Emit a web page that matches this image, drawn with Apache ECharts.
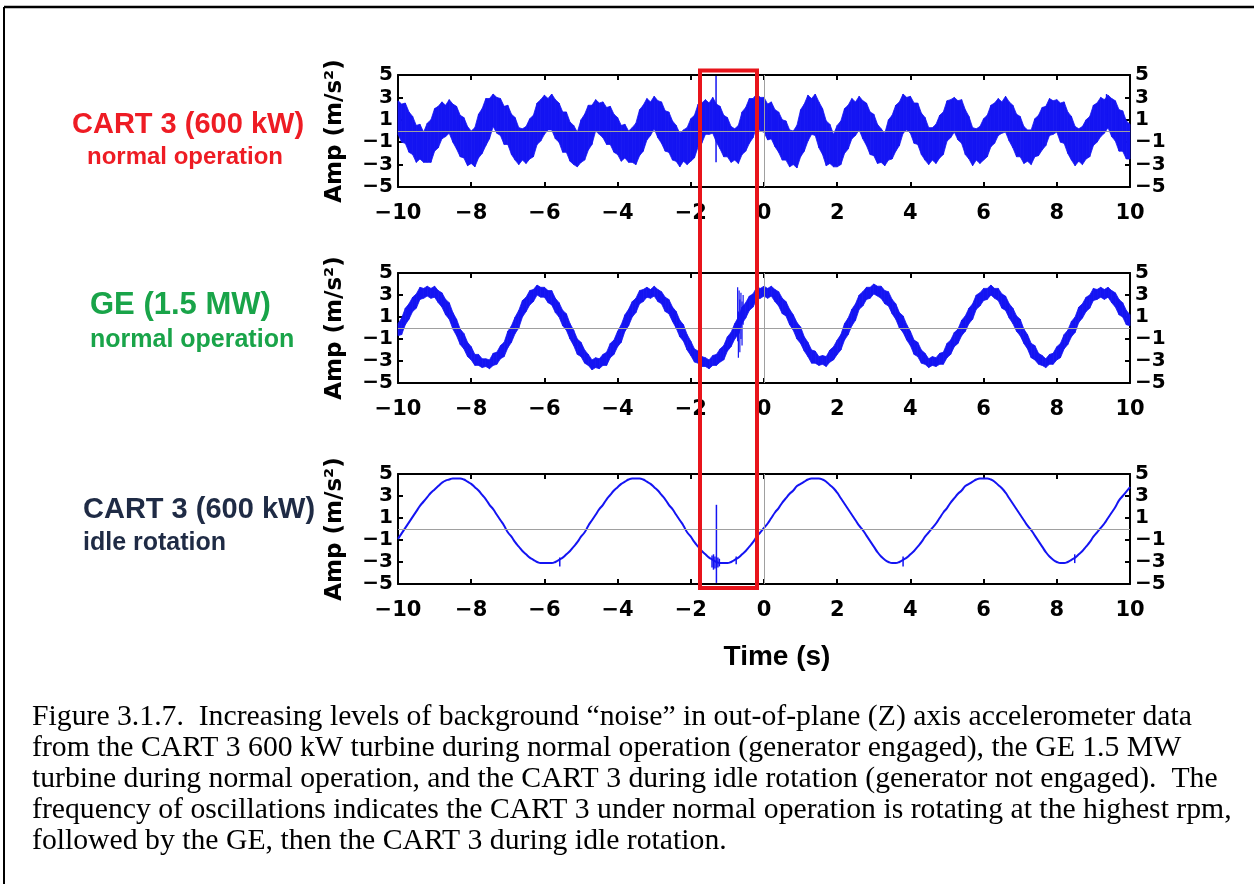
<!DOCTYPE html>
<html>
<head>
<meta charset="utf-8">
<script src="https://cdn.jsdelivr.net/npm/echarts@6.0.0/dist/echarts.min.js"></script>
<style>
  html, body { margin: 0; padding: 0; background: #fff; }
  #chart { width: 1254px; height: 884px; }
</style>
</head>
<body>
<div id="chart"></div>
<script>
// sampling grid shared by all three records (seconds)
const timeStart = -10;
const timeStep = 0.1;

// CART 3 normal operation: upper / lower edge of the noisy band (m/s^2)
const cartNormHi = [
  2.7, 2.4, 2.5, 1.7, 1.3, 0.5, 0.6, -0.1, 0.7, 1.0, 2.0, 2.2, 2.6, 2.3, 2.8, 2.4,
  2.2, 1.4, 1.2, 0.4, 0.0, 0.3, 1.5, 2.0, 2.9, 2.9, 3.3, 3.0, 2.9, 2.2, 2.3, 1.5,
  1.2, 0.3, 0.2, 0.4, 1.1, 1.4, 2.5, 2.8, 3.2, 2.9, 3.3, 2.8, 2.5, 1.7, 1.7, 0.8,
  0.5, -0.1, 1.0, 1.5, 2.3, 2.3, 2.8, 2.5, 2.6, 2.1, 2.2, 1.5, 1.2, 0.5, 0.6, 0.0,
  0.3, 0.7, 1.9, 2.3, 2.9, 2.6, 3.1, 2.7, 2.6, 1.8, 1.7, 0.9, 0.5, -0.2, 0.1, 0.3,
  1.1, 1.4, 2.4, 2.5, 2.8, 2.5, 3.0, 2.4, 2.2, 1.4, 1.2, 0.4, 0.2, 0.5, 1.7, 2.1,
  2.9, 2.9, 3.3, 3.0, 3.0, 2.4, 2.6, 1.9, 1.7, 1.0, 0.9, 0.1, 0.0, 0.5, 1.9, 2.4,
  3.2, 2.9, 3.3, 2.6, 2.0, 0.9, 0.6, -0.3, 0.5, 0.9, 2.0, 2.3, 2.9, 2.6, 3.1, 2.7,
  2.5, 1.7, 1.5, 0.6, 0.2, -0.2, 1.0, 1.4, 2.3, 2.6, 3.3, 3.0, 3.1, 2.5, 2.5, 1.6,
  1.2, 0.3, 0.3, 0.6, 1.4, 1.7, 2.7, 2.8, 3.0, 2.7, 2.8, 1.9, 1.3, 0.3, 0.2, 0.4,
  1.1, 1.4, 2.3, 2.5, 2.9, 2.6, 3.1, 2.6, 2.3, 1.5, 1.3, 0.4, 0.1, 0.1, 1.1, 1.4,
  2.1, 2.2, 2.9, 2.7, 2.8, 2.5, 2.6, 1.7, 1.3, 0.4, 0.2, 0.4, 1.0, 1.3, 2.3, 2.5,
  3.0, 2.8, 3.2, 2.9, 2.7, 1.9, 1.8, 0.9, 0.6
];
const cartNormLo = [
  -0.3, -1.0, -1.1, -1.9, -2.1, -2.8, -2.5, -2.8, -2.8, -2.8, -1.8, -1.5, -0.7, -0.5, -0.2, -1.0,
  -1.6, -2.3, -2.4, -3.1, -2.9, -3.2, -2.4, -2.0, -1.3, -0.7, 0.4, -0.2, -0.4, -1.2, -1.2, -2.1,
  -2.6, -3.0, -2.6, -2.9, -2.5, -2.3, -1.2, -0.9, -0.3, 0.1, 0.1, -0.7, -1.0, -1.9, -1.9, -2.7,
  -3.0, -3.2, -2.8, -2.6, -1.7, -1.2, 0.0, -0.3, -0.6, -1.2, -1.2, -1.9, -2.1, -2.7, -2.4, -2.8,
  -2.8, -3.0, -2.2, -1.8, -0.8, -0.4, 0.2, -0.6, -1.1, -1.8, -1.9, -2.6, -2.7, -3.2, -2.7, -3.0,
  -2.7, -2.4, -1.4, -1.1, -0.3, -0.3, -0.2, -1.0, -1.6, -2.3, -2.3, -2.8, -2.6, -2.9, -2.1, -1.8,
  -1.1, -0.6, 0.4, 0.0, -0.1, -0.8, -0.7, -1.4, -1.9, -2.6, -2.6, -3.2, -3.0, -3.3, -2.3, -1.8,
  -0.9, -0.3, -0.4, -1.5, -2.1, -3.1, -2.9, -3.2, -3.2, -3.0, -2.0, -1.6, -0.7, -0.4, 0.1, -0.7,
  -1.3, -2.1, -2.2, -2.9, -2.8, -3.1, -2.6, -2.5, -1.8, -1.3, -0.2, 0.1, -0.2, -1.1, -1.2, -2.1,
  -2.6, -3.0, -2.6, -2.9, -2.4, -2.1, -0.9, -0.6, -0.1, -0.8, -1.1, -2.1, -2.5, -3.1, -2.6, -2.9,
  -2.6, -2.3, -1.4, -1.1, -0.4, -0.2, -0.1, -0.9, -1.5, -2.3, -2.3, -2.9, -2.7, -3.0, -2.3, -2.2,
  -1.7, -1.3, -0.4, -0.3, -0.1, -1.0, -1.1, -2.0, -2.6, -3.1, -2.7, -3.0, -2.5, -2.3, -1.3, -1.0,
  -0.5, -0.2, 0.3, -0.5, -0.9, -1.8, -1.8, -2.5, -2.5
];
// isolated spikes: [time, low, high]
const cartNormSpikes = [[-1.31, -2.8, 4.9], [9.36, 1.5, 3.3]];

// GE 1.5 MW normal operation: upper / lower edge of the band
const geNormHi = [
  0.4, 0.9, 1.8, 2.2, 2.8, 3.1, 3.7, 3.6, 3.8, 3.6, 3.8, 3.4, 3.2, 2.6, 2.3, 1.4,
  0.8, -0.1, -0.5, -1.3, -1.7, -2.4, -2.4, -2.8, -2.8, -2.9, -2.3, -2.2, -1.6, -1.3, -0.3, 0.2,
  1.0, 1.6, 2.5, 2.8, 3.4, 3.5, 3.9, 3.7, 3.7, 3.4, 3.4, 2.7, 2.3, 1.6, 1.3, 0.4,
  -0.2, -1.0, -1.3, -2.0, -2.4, -2.9, -2.7, -2.8, -2.4, -2.2, -1.4, -1.1, -0.3, 0.3, 1.2, 1.7,
  2.4, 2.7, 3.4, 3.5, 3.7, 3.5, 3.8, 3.5, 3.3, 2.8, 2.6, 1.9, 1.5, 0.7, 0.3, -0.6,
  -1.2, -1.9, -2.1, -2.6, -2.7, -2.9, -2.5, -2.4, -1.9, -1.6, -0.8, -0.4, 0.4, 1.0, 1.9, 2.3,
  2.9, 3.1, 3.7, 3.6, 3.8, 3.6, 3.8, 3.5, 3.3, 2.7, 2.4, 1.7, 1.2, 0.5, 0.1, -0.8,
  -1.3, -2.0, -2.1, -2.6, -2.5, -2.6, -2.0, -1.7, -1.1, -0.6, 0.4, 0.9, 1.7, 2.2, 3.0, 3.3,
  3.7, 3.7, 4.0, 3.8, 3.8, 3.4, 3.3, 2.6, 2.2, 1.4, 1.1, 0.3, -0.3, -1.1, -1.3, -2.0,
  -2.3, -2.8, -2.6, -2.7, -2.3, -2.2, -1.4, -1.1, -0.4, -0.1, 0.7, 1.1, 1.8, 2.2, 3.0, 3.2,
  3.6, 3.6, 3.9, 3.6, 3.6, 3.1, 2.9, 2.2, 1.8, 1.1, 0.8, -0.1, -0.6, -1.4, -1.6, -2.3,
  -2.5, -2.8, -2.4, -2.3, -1.7, -1.4, -0.6, -0.2, 0.6, 1.0, 1.9, 2.2, 2.8, 3.0, 3.6, 3.5,
  3.7, 3.5, 3.7, 3.4, 3.2, 2.6, 2.3, 1.6, 1.2
];
const geNormLo = [
  -0.7, -0.6, 0.3, 0.8, 1.5, 1.8, 2.6, 2.7, 2.9, 2.7, 2.8, 2.3, 1.9, 1.2, 0.8, -0.1,
  -0.7, -1.5, -1.9, -2.6, -2.9, -3.4, -3.4, -3.6, -3.5, -3.7, -3.4, -3.3, -2.8, -2.6, -1.8, -1.3,
  -0.5, 0.0, 1.0, 1.5, 2.1, 2.4, 3.0, 2.8, 2.8, 2.3, 2.1, 1.4, 1.0, 0.2, -0.2, -1.0,
  -1.6, -2.4, -2.6, -3.2, -3.4, -3.8, -3.6, -3.7, -3.4, -3.4, -2.7, -2.4, -1.7, -1.3, -0.3, 0.2,
  1.0, 1.4, 2.2, 2.4, 2.8, 2.7, 2.9, 2.4, 2.2, 1.5, 1.3, 0.6, 0.0, -0.8, -1.2, -2.0,
  -2.5, -3.1, -3.2, -3.5, -3.5, -3.7, -3.4, -3.4, -3.1, -2.9, -2.1, -1.7, -1.0, -0.6, 0.4, 0.9,
  1.6, 1.9, 2.6, 2.7, 2.9, 2.7, 2.9, 2.4, 2.0, 1.3, 1.1, 0.3, -0.2, -1.0, -1.4, -2.1,
  -2.6, -3.2, -3.2, -3.4, -3.3, -3.5, -3.1, -2.9, -2.4, -2.0, -1.1, -0.6, 0.2, 0.7, 1.7, 2.0,
  2.6, 2.7, 3.1, 2.9, 2.7, 2.2, 2.0, 1.3, 0.8, 0.0, -0.4, -1.1, -1.6, -2.4, -2.6, -3.2,
  -3.3, -3.6, -3.4, -3.5, -3.3, -3.3, -2.7, -2.4, -1.7, -1.4, -0.7, -0.3, 0.4, 0.8, 1.7, 2.0,
  2.5, 2.6, 3.0, 2.7, 2.5, 1.8, 1.6, 0.9, 0.4, -0.3, -0.7, -1.4, -1.9, -2.7, -2.9, -3.3,
  -3.4, -3.6, -3.3, -3.3, -2.9, -2.7, -1.9, -1.5, -0.8, -0.4, 0.5, 0.9, 1.5, 1.8, 2.5, 2.6,
  2.8, 2.6, 2.8, 2.3, 1.9, 1.2, 1.0, 0.3, 0.2
];
const geNormSpikes = [
  [-0.72, -1.2, 3.7], [-0.70, -2.7, 1.5], [-0.68, -0.5, 3.4], [-0.66, -2.2, 2.6],
  [-0.63, -1.0, 3.2], [-0.60, -1.6, 2.4], [-0.57, 0.3, 3.0]
];

// CART 3 idle rotation: single trace
const cartIdle = [
  -0.9, -0.4, 0.1, 0.6, 1.1, 1.6, 2.1, 2.5, 2.9, 3.3, 3.6, 3.9, 4.2, 4.4, 4.5, 4.6, 4.6,
  4.6, 4.5, 4.3, 4.1, 3.8, 3.5, 3.1, 2.7, 2.2, 1.8, 1.3, 0.8, 0.3, -0.3, -0.7, -1.2, -1.6,
  -2.0, -2.3, -2.6, -2.8, -3.0, -3.1, -3.1, -3.1,
  -3.1, -3.0, -2.8, -2.6, -2.3, -2.0, -1.6, -1.2, -0.7, -0.3, 0.3, 0.8, 1.3, 1.8, 2.2, 2.7,
  3.1, 3.5, 3.8, 4.1, 4.3, 4.5, 4.6, 4.6,
  4.6, 4.5, 4.3, 4.1, 3.8, 3.5, 3.1, 2.7, 2.2, 1.8, 1.3, 0.8, 0.3, -0.3, -0.7, -1.2,
  -1.6, -2.0, -2.3, -2.6, -2.8, -3.0, -3.1, -3.1,
  -3.1, -3.0, -2.8, -2.6, -2.3, -2.0, -1.6, -1.2, -0.7, -0.3, 0.1, 0.5, 1.0, 1.5, 1.9, 2.4,
  2.8, 3.2, 3.5, 3.9, 4.1, 4.3, 4.5, 4.6, 4.6,
  4.6, 4.5, 4.3, 4.0, 3.7, 3.3, 2.8, 2.3, 1.8, 1.3, 0.8, 0.3, -0.1, -0.6, -1.1, -1.6,
  -2.1, -2.5, -2.8, -3.0, -3.1,
  -3.1, -3.0, -2.8, -2.6, -2.3, -2.0, -1.6, -1.2, -0.7, -0.3, 0.1, 0.5, 1.0, 1.5, 1.9, 2.4,
  2.8, 3.2, 3.5, 3.9, 4.1, 4.3, 4.5, 4.6, 4.6,
  4.6, 4.5, 4.3, 4.0, 3.7, 3.3, 2.8, 2.3, 1.8, 1.3, 0.8, 0.3, -0.1, -0.6, -1.1, -1.6,
  -2.1, -2.5, -2.8, -3.0, -3.1,
  -3.1, -3.0, -2.8, -2.6, -2.3, -2.0, -1.6, -1.2, -0.7, -0.3, 0.1, 0.5, 1.0, 1.5, 2.0, 2.6,
  3.0, 3.4, 3.8
];
const cartIdleSpikes = [
  [-1.30, -4.9, 2.2], [-1.42, -3.5, -2.4], [-1.38, -3.7, -2.3], [-1.34, -3.6, -2.5],
  [-1.26, -3.5, -2.6], [-1.22, -3.4, -2.7], [-5.58, -3.4, -2.6], [-0.76, -3.2, -2.5],
  [3.80, -3.4, -2.5], [8.49, -3.1, -2.3]
];

const turbineLabels = [
  { name: 'CART 3 (600 kW)', mode: 'normal operation', color: '#ee1c24' },
  { name: 'GE (1.5 MW)', mode: 'normal operation', color: '#19a449' },
  { name: 'CART 3 (600 kW)', mode: 'idle rotation', color: '#1f2b45' }
];

const captionLines = [
  'Figure 3.1.7.  Increasing levels of background \u201cnoise\u201d in out-of-plane (Z) axis accelerometer data',
  'from the CART 3 600 kW turbine during normal operation (generator engaged), the GE 1.5 MW',
  'turbine during normal operation, and the CART 3 during idle rotation (generator not engaged).  The',
  'frequency of oscillations indicates the CART 3 under normal operation is rotating at the highest rpm,',
  'followed by the GE, then the CART 3 during idle rotation.'
];

const BLUE = '#1414f2';
const TICK_FONT = 'DejaVu Sans';
const CAPTION_FONT = '29px "Liberation Serif"';

function timeAt(i) {
  return +(timeStart + i * timeStep).toFixed(2);
}
function minus(v) {
  return String(v).replace('-', '\u2212');
}

const chart = echarts.init(document.getElementById('chart'));

const gridBoxes = [
  { top: 75, height: 112 },
  { top: 273, height: 110 },
  { top: 474, height: 110 }
];

const grids = gridBoxes.map(g => ({
  left: 398, width: 732, top: g.top, height: g.height,
  containLabel: false, outerBoundsMode: 'none'
}));

const frameLine = { show: true, onZero: false, lineStyle: { color: '#000', width: 2 } };
const inTick = { show: true, inside: true, length: 5, lineStyle: { color: '#000', width: 2 } };
const tickLabel = {
  color: '#000', fontFamily: TICK_FONT, fontWeight: 'bold', fontSize: 20,
  formatter: minus, showMinLabel: true, showMaxLabel: true
};

const xAxes = [];
const yAxes = [];
gridBoxes.forEach((g, i) => {
  xAxes.push({
    type: 'value', gridIndex: i, position: 'bottom', min: -10, max: 10, interval: 2,
    axisLine: frameLine, axisTick: inTick, splitLine: { show: false },
    axisLabel: Object.assign({}, tickLabel, { margin: 16, fontSize: 21 })
  });
  xAxes.push({
    type: 'value', gridIndex: i, position: 'top', min: -10, max: 10, interval: 2,
    axisLine: frameLine, axisTick: inTick, splitLine: { show: false },
    axisLabel: { show: false }
  });
  yAxes.push({
    type: 'value', gridIndex: i, position: 'left', min: -5, max: 5, interval: 2,
    axisLine: frameLine, axisTick: inTick, splitLine: { show: false },
    axisLabel: Object.assign({}, tickLabel, { margin: 5 })
  });
  yAxes.push({
    type: 'value', gridIndex: i, position: 'right', min: -5, max: 5, interval: 2,
    axisLine: frameLine, axisTick: inTick, splitLine: { show: false },
    axisLabel: Object.assign({}, tickLabel, { margin: 5 })
  });
});

// thin gray reference lines at amplitude 0 and time 0, under the traces
function zeroLineSeries(i) {
  return {
    type: 'line', xAxisIndex: 2 * i, yAxisIndex: 2 * i, z: 1, silent: true,
    data: [], symbol: 'none',
    markLine: {
      silent: true, symbol: 'none', label: { show: false },
      lineStyle: { color: '#a0a0a0', width: 1, type: 'solid' },
      data: [{ yAxis: 0 }, { xAxis: 0 }]
    }
  };
}

function spikeSeries(i, spikes, width) {
  return {
    type: 'custom', xAxisIndex: 2 * i, yAxisIndex: 2 * i, z: 4,
    data: spikes,
    encode: { x: 0, y: [1, 2] },
    renderItem: function (params, api) {
      const a = api.coord([api.value(0), api.value(1)]);
      const b = api.coord([api.value(0), api.value(2)]);
      return {
        type: 'line',
        shape: { x1: a[0], y1: a[1], x2: b[0], y2: b[1] },
        style: { stroke: BLUE, lineWidth: width }
      };
    }
  };
}

// noisy band: one filled quad between consecutive samples of the low / high edges
function bandSeries(i, hi, lo) {
  return {
    type: 'custom', xAxisIndex: 2 * i, yAxisIndex: 2 * i, z: 3,
    data: lo.map((l, k) => [timeAt(k), l, hi[k]]),
    encode: { x: 0, y: [1, 2] },
    renderItem: function (params, api) {
      const k = params.dataIndexInside;
      if (k >= params.dataInsideLength - 1) return null;
      const t0 = api.value(0, k), t1 = api.value(0, k + 1);
      const pts = [
        api.coord([t0, api.value(1, k)]),
        api.coord([t1, api.value(1, k + 1)]),
        api.coord([t1, api.value(2, k + 1)]),
        api.coord([t0, api.value(2, k)])
      ];
      return {
        type: 'polygon',
        shape: { points: pts },
        style: { fill: BLUE, stroke: BLUE, lineWidth: 0.8 }
      };
    }
  };
}

const series = [
  zeroLineSeries(0),
  bandSeries(0, cartNormHi, cartNormLo),
  spikeSeries(0, cartNormSpikes, 1.5),
  zeroLineSeries(1),
  bandSeries(1, geNormHi, geNormLo),
  spikeSeries(1, geNormSpikes, 1.2),
  zeroLineSeries(2),
  {
    type: 'line', xAxisIndex: 4, yAxisIndex: 4, z: 3,
    data: cartIdle.map((v, k) => [timeAt(k), v]),
    symbol: 'none', smooth: true,
    lineStyle: { color: BLUE, width: 2 }
  },
  spikeSeries(2, cartIdleSpikes, 1.5)
];

const graphic = [
  { type: 'line', shape: { x1: 4, y1: 7, x2: 1254, y2: 7 }, style: { stroke: '#000', lineWidth: 2.5 } },
  { type: 'line', shape: { x1: 4, y1: 7, x2: 4, y2: 884 }, style: { stroke: '#000', lineWidth: 2 } }
];

const labelPos = [
  { x1: 72, y1: 125, s1: 29, x2: 87, y2: 157, s2: 24 },
  { x1: 90, y1: 305, s1: 31, x2: 90, y2: 340, s2: 25 },
  { x1: 83, y1: 510, s1: 29, x2: 83, y2: 543, s2: 25 }
];
turbineLabels.forEach((t, i) => {
  const p = labelPos[i];
  graphic.push({
    type: 'text', x: p.x1, y: p.y1,
    style: { text: t.name, fill: t.color, font: 'bold ' + p.s1 + 'px "Liberation Sans"', textAlign: 'left', textVerticalAlign: 'middle' }
  });
  graphic.push({
    type: 'text', x: p.x2, y: p.y2,
    style: { text: t.mode, fill: t.color, font: 'bold ' + p.s2 + 'px "Liberation Sans"', textAlign: 'left', textVerticalAlign: 'middle' }
  });
  const g = gridBoxes[i];
  graphic.push({
    type: 'text', x: 335, y: g.top + g.height / 2, rotation: Math.PI / 2,
    style: { text: 'Amp (m/s\u00b2)', fill: '#000', font: 'bold 23px "DejaVu Sans"', textAlign: 'center', textVerticalAlign: 'middle' }
  });
});

graphic.push({
  type: 'text', x: 777, y: 657,
  style: { text: 'Time (s)', fill: '#000', font: 'bold 28px "Liberation Sans"', textAlign: 'center', textVerticalAlign: 'middle' }
});

graphic.push({
  type: 'rect', z: 100,
  shape: { x: 700, y: 70.5, width: 57, height: 517.5 },
  style: { fill: 'none', stroke: '#e8141b', lineWidth: 4 }
});

// caption: one common horizontal scale so the first line ends where the printed one does
const measureCtx = document.createElement('canvas').getContext('2d');
measureCtx.font = CAPTION_FONT;
const captionScale = (1192 - 32) / measureCtx.measureText(captionLines[0]).width;
captionLines.forEach((line, k) => {
  graphic.push({
    type: 'text', x: 32, y: 717 + k * 31, scaleX: captionScale,
    style: { text: line, fill: '#000', font: CAPTION_FONT, textAlign: 'left', textVerticalAlign: 'middle' }
  });
});

chart.setOption({
  animation: false,
  backgroundColor: '#fff',
  grid: grids,
  xAxis: xAxes,
  yAxis: yAxes,
  series: series,
  graphic: graphic
});
</script>
</body>
</html>
